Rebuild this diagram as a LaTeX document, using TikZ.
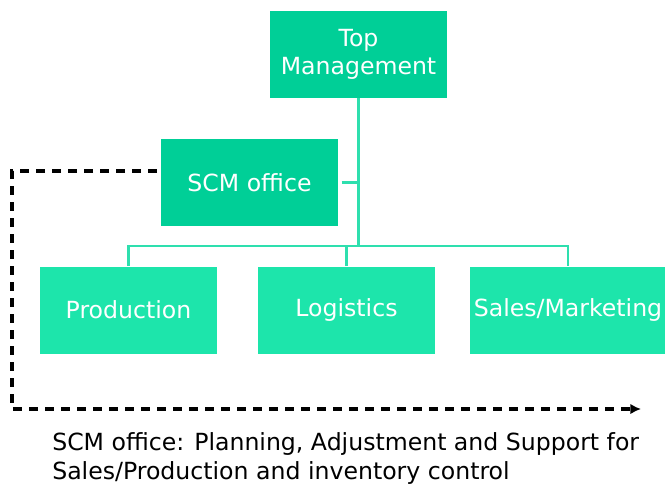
\documentclass[tikz,border=0pt]{standalone}
\usepackage{fontspec}
\setmainfont{DejaVu Sans}
\usetikzlibrary{arrows.meta}

\definecolor{headgreen}{HTML}{00CF97}
\definecolor{deptgreen}{HTML}{1DE5AB}
\definecolor{linkgreen}{HTML}{2EDFAE}

\tikzset{
  orgbox/.style={draw=none, fill=#1, text=white, minimum width=132.75pt,
    minimum height=65.25pt, inner sep=2pt, align=center,
    font=\fontsize{17.7}{21}\selectfont},
  orglink/.style={draw=linkgreen, line width=2pt},
  flowline/.style={draw=black, line width=2.4pt, dash pattern=on 7pt off 5pt,
    -{Latex[length=8pt,width=8pt]}}
}

\begin{document}
\begin{tikzpicture}[x=0.75pt, y=-0.75pt]

  \useasboundingbox (0,0) rectangle (665,494);

  % Boxes
  \node[orgbox=headgreen] (top) at (358.5,54.5) {Top\\Management};
  \node[orgbox=headgreen] (scm) at (249.5,182.5) {SCM office};
  \node[orgbox=deptgreen] (prod) at (128.5,310) {Production};
  \node[orgbox=deptgreen] (logi) at (346.5,310) {Logistics};
  \node[orgbox=deptgreen, minimum width=147pt] (sales) at (568,310) {Sales/Marketing};

  % Junctions of the tree
  \coordinate (jscm) at (358.5,182.5);
  \coordinate (jbus) at (358.5,246);

  % Tree lines
  \draw[orglink] (top.south) -- (jbus);
  \draw[orglink] ([xshift=2.5pt]scm.east) -- (jscm);
  \draw[orglink] (prod.north) |- (jbus) -| (sales.north);
  \draw[orglink] (logi.north) -- (logi.north |- jbus);

  % Dashed flow
  \coordinate (d0) at (157,171);
  \coordinate (d1) at (12,409);
  \coordinate (d2) at (641,409);
  \draw[flowline] (d0) -| (d1) -- (d2);

  % Note
  \node[anchor=north west, align=left, inner sep=0pt,
    font=\fontsize{17.7}{21.75}\selectfont] (note) at (52,432)
    {SCM office: Planning, Adjustment and Support for\\
     Sales/Production and inventory control};

\end{tikzpicture}
\end{document}
